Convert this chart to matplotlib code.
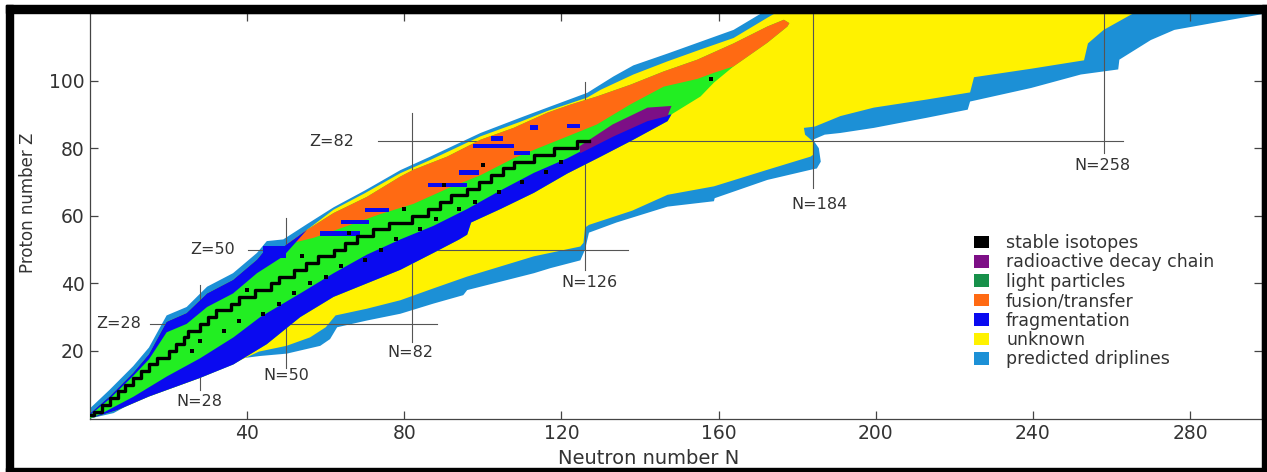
import numpy as np
import matplotlib.pyplot as plt
from matplotlib.patches import Patch, Rectangle

# Section: data, (N, Z)
# ---
# proton dripline band, outer and inner edge
p_out_n = [0, 0, 5, 11, 15, 19.5, 24.6, 29.8, 36.4, 42.5, 45, 49.2, 55.2, 62, 70, 79, 86.6, 99.4, 109.5, 116.4, 126.6, 133.2, 138.3, 147, 155.4, 163.8, 171]
p_out_z = [0, 3, 8.5, 15.5, 21, 30.5, 33, 39, 43, 49, 52.5, 53, 57.5, 62.5, 67.5, 73.5, 77.5, 84.5, 89, 92, 96.4, 101.2, 104.5, 108, 111.5, 115, 120]
p_in_n = [0, 0, 5, 11, 15, 19.5, 24.6, 29.8, 36.4, 42.5, 45, 49.2, 55.2, 62, 70, 79, 86.6, 99.4, 109.5, 116.4, 126.6, 130, 138.3, 147, 155.4, 163.8, 172.4, 174.5]
p_in_z = [0, 1.5, 6.5, 13.5, 19, 28.6, 31.2, 37, 41, 47, 50.5, 50.8, 55.8, 61.8, 66.7, 72.6, 76.5, 83.5, 87.8, 91, 95, 97.3, 101.8, 105.7, 109.2, 112.6, 118.6, 120]

# neutron dripline band, outer and inner edge
n_out_n = [0, 6, 15.3, 23.6, 31.4, 34, 36.5, 43.3, 50.1, 58.6, 61.1, 62.9, 70.5, 79, 87.4, 95, 96, 104.5, 113, 117.2, 124.8, 126, 127, 134, 147, 158.8, 159, 172.4, 183.4, 185, 186, 185.5, 184, 187, 191, 199.5, 213, 223.4, 224, 239.5, 252.2, 261.7, 262, 270, 276, 300]
n_out_z = [0, 1.6, 7.5, 12.5, 15.5, 16, 17.5, 18.5, 19.2, 21.5, 23.5, 27, 29, 31, 34, 36.5, 38, 40.5, 43, 44.5, 46.8, 50, 55, 58, 62.7, 64.3, 65.2, 70.6, 73.6, 74, 76, 80, 82.5, 84, 84.5, 86, 89, 91.4, 93.8, 97.8, 101.8, 103.3, 106.2, 112, 115, 120]
n_in_n = [0, 7, 15, 28, 36, 43, 50, 56, 60, 62.5, 70.5, 79, 87.4, 96, 104.5, 113, 124.8, 125.6, 126, 127, 138, 147, 158.8, 172.4, 183.4, 184, 184, 182, 181.7, 184.5, 191, 199.5, 213, 224, 225, 239.5, 253, 254, 258, 265.7]
n_in_z = [0, 2.5, 6.5, 12, 16, 19.8, 21.5, 24, 27, 30.5, 32.5, 35, 38.5, 42, 45, 48, 50.9, 52, 56.5, 57.3, 61.5, 66.2, 68.7, 73.6, 77.5, 78, 82, 84, 86, 86.4, 89.5, 92, 94.4, 96.5, 101, 103.5, 106, 111, 115, 120]

# known nuclei, proton-rich and neutron-rich edge
known_top_n = [0, 0, 5, 11, 15, 19.5, 24.6, 29.8, 36.4, 42.5, 45, 49.2, 55.2, 62, 70.5, 79, 82.3, 90.9, 99.4, 107.8, 116.4, 122.3, 129, 137.6, 146, 154.6, 163.8, 172.4, 176.6, 178]
known_top_z = [0, 1.5, 6.5, 13.5, 19, 28.6, 31.2, 37, 41, 47, 50.5, 50.8, 55.8, 60.8, 65.6, 71.6, 73.6, 77.5, 82.5, 86, 90.5, 92.9, 95.3, 98.8, 102.7, 106.2, 111, 116, 118, 117]
known_bot_n = [0, 7, 15, 28, 36.5, 45, 53.5, 62, 70.5, 79, 87.4, 94, 96, 97, 104.5, 113, 121.5, 130, 138.3, 147, 148, 155.4, 158.8, 163.8, 172.4, 177.5, 178]
known_bot_z = [0, 2.5, 6.5, 12, 16, 22, 30, 36, 40, 44, 49, 53, 54.4, 58, 62, 66.8, 72.5, 77.5, 82.5, 88, 90, 95.3, 99.4, 104.2, 111.2, 116, 117]

# fusion/transfer region, lower edge against the light particle band
orange_bot_n = [50, 57, 65.5, 73.9, 82.3, 90.9, 99.4, 107.8, 113, 120.5, 129, 137.6, 146, 154.6, 158.8]
orange_bot_z = [51.5, 53.5, 57, 60.5, 63.5, 68, 72, 77, 79.5, 83, 87, 93, 98.2, 100.5, 102.3]

# fragmentation, proton-rich side (light nuclei) lower edge
frag_p_n = [0, 5, 11, 15, 19.5, 24.6, 29.8, 36.4, 42.5, 49.2, 55.2]
frag_p_z = [1, 5.8, 12.6, 17.5, 25.5, 28, 33, 37, 43, 48, 55.8]

# fragmentation, neutron-rich side, upper edge against light particles
frag_n_n = [0, 3, 11, 19.5, 28, 36.5, 43.3, 53.5, 62, 70.5, 79, 87.4, 96, 104.5, 113, 121.5, 124.8, 133.3, 141.9, 148]
frag_n_z = [0, 1.5, 6.4, 12.4, 17.8, 24, 30, 37, 43, 48.5, 53, 57, 62, 67.5, 72.7, 77, 79, 84.5, 89, 90]

# fragmentation patches inside the fusion/transfer area: N from, N to, Z from, Z to
patch_n0 = [58.6, 64, 86, 94, 97.6, 112, 121.5, 44, 70, 102, 108]
patch_n1 = [68.8, 71, 96, 99, 107.8, 114, 124.8, 50, 76, 105, 112]
patch_z0 = [54, 57.5, 68.6, 72, 80, 85.5, 86, 47.5, 61, 82, 78]
patch_z1 = [55.5, 58.8, 69.8, 73.5, 81.2, 86.8, 87.2, 51, 62.3, 83.5, 79.2]

# radioactive decay chain strip
decay_n = [124.5, 133, 141.9, 148, 147, 141.9, 133.3, 124.8]
decay_z = [80.5, 87, 92, 92.5, 89.5, 88, 83.5, 78.5]

# stable isotopes (valley of stability) and scattered stable cells beside it
stable_n = [0, 1, 3, 5, 7, 9, 11, 13, 15, 17, 20, 22, 24, 25, 28, 30, 32, 36, 38, 42, 46, 48, 52, 55, 58, 62, 65, 68, 72, 76, 82, 86, 89, 92, 96, 99, 102, 105, 108, 113, 118, 124, 127]
stable_z = [1, 2, 4, 6, 8, 10, 12, 14, 16, 18, 20, 22, 24, 26, 28, 30, 32, 34, 36, 38, 40, 42, 44, 46, 48, 50, 52, 54, 56, 58, 60, 62, 64, 66, 68, 70, 72, 74, 76, 78, 80, 82, 82]
dots_n = [26, 28, 34, 38, 44, 48, 52, 56, 60, 64, 70, 74, 78, 84, 88, 94, 98, 104, 110, 116, 120, 40, 54, 66, 80, 90, 100, 158]
dots_z = [20, 23, 26, 29, 31, 34, 37, 40, 42, 45, 47, 50, 53, 56, 59, 62, 64, 67, 70, 73, 76, 38, 48, 55, 62, 69, 75, 100.5]

# magic numbers: horizontal Z lines (Z, N start, N end), vertical N lines (N, Z start, Z end)
magic_z = [28, 50, 82]
magic_z_from = [15.3, 40.3, 73.4]
magic_z_to = [88.4, 137, 263]
magic_n = [28, 50, 82, 126, 184, 258]
magic_n_from = [8.5, 15, 22.7, 44, 68.3, 78.6]
magic_n_to = [39.5, 59.3, 90.5, 99.7, 120, 120]
z_label_n = [7.3, 31.3, 61.4]
n_label_n = [27.8, 49.9, 81.5, 127.1, 185.7, 257.8]
n_label_z = [4.9, 12.6, 19.4, 40.2, 63.3, 74.8]

legend_labels = ["stable isotopes", "radioactive decay chain", "light particles",
                 "fusion/transfer", "fragmentation", "unknown", "predicted driplines"]

# Section: colours
# ---
c_stable = "#000000"
c_decay = "#7d0f86"
c_light = "#22ee22"
c_light_leg = "#17904a"
c_fusion = "#ff6a13"
c_frag = "#0a0af0"
c_unknown = "#fff200"
c_drip = "#1c90d6"
c_text = "#333333"

# Section: figure
# ---
W, H = 1267, 472
fig = plt.figure(figsize=(W / 100, H / 100), dpi=100)
ax = fig.add_axes([90 / W, 1 - 418.5 / H, 1172 / W, 405.5 / H])
ax.set_xlim(0, 298.3)
ax.set_ylim(0, 120)

# dripline envelope, then unknown area inside it
ax.fill(p_out_n + [300, 300] + n_out_n[::-1], p_out_z + [120, 120] + n_out_z[::-1],
        color=c_drip, lw=0, zorder=1)
ax.fill(p_in_n + n_in_n[::-1], p_in_z + n_in_z[::-1], color=c_unknown, lw=0, zorder=2)

# magic number lines
for z, a, b in zip(magic_z, magic_z_from, magic_z_to):
    ax.plot([a, b], [z, z], color="#555555", lw=0.8, zorder=3)
for n, a, b in zip(magic_n, magic_n_from, magic_n_to):
    ax.plot([n, n], [a, b], color="#555555", lw=0.8, zorder=3)

# known nuclei
ax.fill(known_top_n + known_bot_n[::-1], known_top_z + known_bot_z[::-1],
        color=c_light, lw=0, zorder=4)
top = [(n, z) for n, z in zip(known_top_n, known_top_z) if n >= 50]
tail = [(n, z) for n, z in zip(known_bot_n, known_bot_z) if n >= 160][::-1]
edge = list(zip(orange_bot_n, orange_bot_z))[::-1]
poly = np.array(top + tail + edge)
ax.fill(poly[:, 0], poly[:, 1], color=c_fusion, lw=0, zorder=5)
low = [(n, z) for n, z in zip(known_top_n, known_top_z) if n <= 55.2]
poly = np.array(low + list(zip(frag_p_n, frag_p_z))[::-1])
ax.fill(poly[:, 0], poly[:, 1], color=c_frag, lw=0, zorder=5)
bot = [(n, z) for n, z in zip(known_bot_n, known_bot_z) if n <= 148]
poly = np.array(bot + list(zip(frag_n_n, frag_n_z))[::-1])
ax.fill(poly[:, 0], poly[:, 1], color=c_frag, lw=0, zorder=5)
for n0, n1, z0, z1 in zip(patch_n0, patch_n1, patch_z0, patch_z1):
    ax.fill([n0, n1, n1, n0], [z0, z0, z1, z1], color=c_frag, lw=0, zorder=5.5)
ax.fill(decay_n, decay_z, color=c_decay, lw=0, zorder=6)
ax.step(stable_n, stable_z, where="post", color=c_stable, lw=2.4, zorder=7)
ax.scatter(dots_n, dots_z, marker="s", s=5, color=c_stable, lw=0, zorder=7)

# magic number labels
for z, n in zip(magic_z, z_label_n):
    ax.text(n, z, f"Z={z}", ha="center", va="center", fontsize=11.5, color=c_text, zorder=8)
for n, x, y in zip(magic_n, n_label_n, n_label_z):
    ax.text(x, y, f"N={n}", ha="center", va="center", fontsize=11.5, color=c_text, zorder=8)

# axes styling
ax.set_xticks([40, 80, 120, 160, 200, 240, 280])
ax.set_yticks([20, 40, 60, 80, 100])
ax.tick_params(direction="in", length=6, width=0.9, top=True, right=True,
               labelsize=13.5, labelcolor=c_text, color="#444444", pad=4)
for s in ax.spines.values():
    s.set_color("#444444")
    s.set_linewidth(0.9)
fig.text(649 / W, 1 - 458 / H, "Neutron number N", ha="center", va="center",
         fontsize=14, color=c_text)
fig.text(28 / W, 1 - 203 / H, "Proton number Z", ha="center", va="center",
         rotation=90, fontsize=12, color=c_text)

# legend
cols = [c_stable, c_decay, c_light_leg, c_fusion, c_frag, c_unknown, c_drip]
handles = [Patch(facecolor=c, edgecolor="none") for c in cols]
ax.legend(handles, legend_labels, loc="upper left",
          bbox_to_anchor=((974 - 90) / 1172, (418.5 - 234) / 405.5),
          frameon=False, fontsize=12.5, handlelength=0.85, handleheight=0.75,
          handletextpad=1.0, labelspacing=0.08, borderpad=0, borderaxespad=0,
          labelcolor=c_text)

# black picture frame
for x0, y0, w, h in [(6, 5, 1261, 8), (6, 5, 7, 467), (6, 468, 1261, 4), (1262, 5, 5, 467)]:
    fig.patches.append(Rectangle((x0 / W, 1 - (y0 + h) / H), w / W, h / H,
                                 transform=fig.transFigure, color="black", zorder=10))

fig.savefig("out.png", dpi=100)
